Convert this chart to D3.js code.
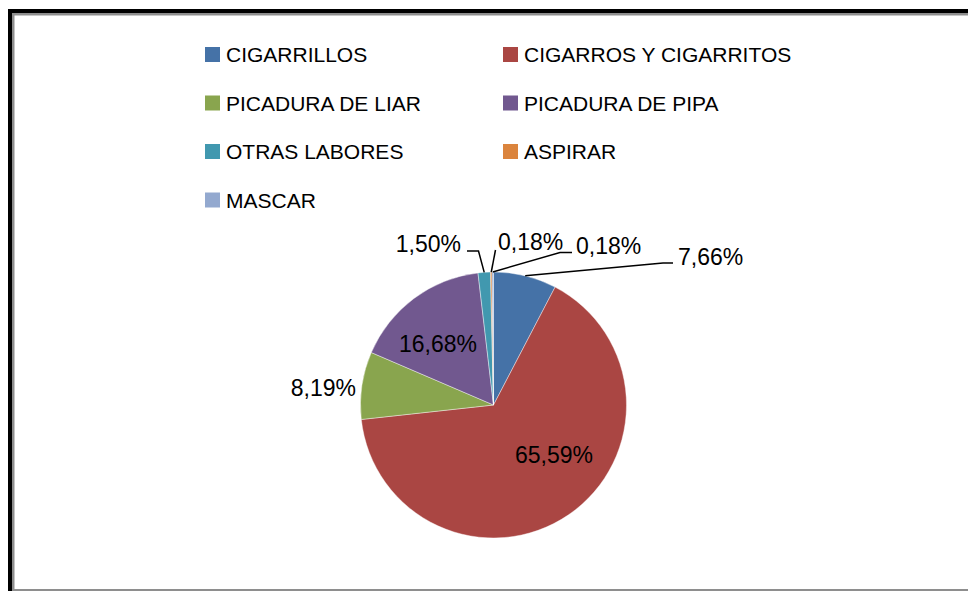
<!DOCTYPE html>
<html>
<head>
<meta charset="utf-8">
<script src="https://cdn.jsdelivr.net/npm/d3@7"></script>
<style>
  html, body { margin: 0; padding: 0; background: #fff; }
  svg { display: block; }
  text { font-family: "Liberation Sans", Arial, sans-serif; fill: #000; }
</style>
</head>
<body>
<svg id="chart" width="968" height="591"></svg>
<script>
// ---- data ----
const categories = ["CIGARRILLOS", "CIGARROS Y CIGARRITOS", "PICADURA DE LIAR", "PICADURA DE PIPA", "OTRAS LABORES", "ASPIRAR", "MASCAR"];
const values = [7.66, 65.59, 8.19, 16.68, 1.50, 0.18, 0.18];
const valueLabels = ["7,66%", "65,59%", "8,19%", "16,68%", "1,50%", "0,18%", "0,18%"];
const colors = ["#4572A7", "#AA4643", "#89A54E", "#71588F", "#4198AF", "#DB843D", "#93A9CF"];

// ---- layout (positions of labels / leader elbows, not data) ----
// label: [x, y(baseline), anchor]; elbow: list of points after the slice edge point
const labelLayout = [
  { pos: [678, 264.5], anchor: "start", elbow: [[663, 263], [673, 263]] },
  { pos: [554, 463], anchor: "middle", elbow: null },
  { pos: [356, 396], anchor: "end", elbow: null },
  { pos: [438, 352], anchor: "middle", elbow: null },
  { pos: [461, 252], anchor: "end", elbow: [[478.5, 251], [467, 251]] },
  { pos: [498, 249.5], anchor: "start", elbow: [[495.5, 250]] },
  { pos: [576, 253.5], anchor: "start", elbow: [[560, 252.5], [572, 252.5]] }
];

const svg = d3.select("#chart");

// frame
svg.append("rect").attr("x", 8).attr("y", 9).attr("width", 1000).attr("height", 1000).attr("fill", "#000");
svg.append("rect").attr("x", 12).attr("y", 13).attr("width", 1000).attr("height", 1000).attr("fill", "#8e8e8e");
svg.append("rect").attr("x", 14.5).attr("y", 15.5).attr("width", 1000).attr("height", 589 - 15.5).attr("fill", "#fff");

// legend
const legendCols = [205, 503];
const legendRowBase = 62, legendRowStep = 48.5;
const legend = svg.append("g");
categories.forEach((c, i) => {
  const col = i % 2, row = Math.floor(i / 2);
  const base = legendRowBase + row * legendRowStep;
  const x = legendCols[col];
  legend.append("rect").attr("x", x).attr("y", base - 15).attr("width", 15).attr("height", 15).attr("fill", colors[i]);
  legend.append("text").attr("x", x + 21).attr("y", base).attr("font-size", 21).text(c);
});

// pie
const cx = 493.5, cy = 405, R = 133;
const pie = d3.pie().sort(null).value(d => d)(values);
const arc = d3.arc().innerRadius(0).outerRadius(R);
const edgeArc = d3.arc().innerRadius(R).outerRadius(R);

const g = svg.append("g").attr("transform", `translate(${cx},${cy})`);
g.selectAll("path.slice").data(pie).enter().append("path")
  .attr("class", "slice")
  .attr("d", arc)
  .attr("fill", (d, i) => colors[i])
  .attr("stroke", "#ffffff")
  .attr("stroke-opacity", 0.55)
  .attr("stroke-width", 0.75);

// leader lines
pie.forEach((d, i) => {
  const L = labelLayout[i];
  if (!L.elbow) return;
  const e = edgeArc.centroid(d);
  const pts = [[cx + e[0], cy + e[1]]].concat(L.elbow);
  svg.append("path")
    .attr("d", d3.line()(pts))
    .attr("fill", "none")
    .attr("stroke", "#000")
    .attr("stroke-width", 1.5);
});

// value labels
pie.forEach((d, i) => {
  const L = labelLayout[i];
  svg.append("text")
    .attr("x", L.pos[0]).attr("y", L.pos[1])
    .attr("text-anchor", L.anchor)
    .attr("font-size", 23)
    .text(valueLabels[i]);
});
</script>
</body>
</html>
